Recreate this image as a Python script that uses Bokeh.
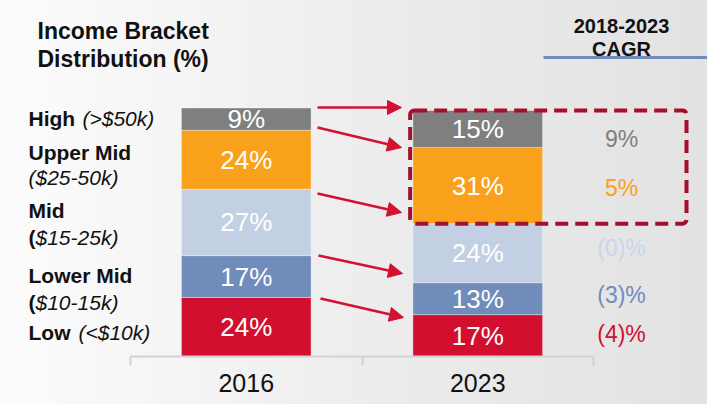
import numpy as np
from bokeh.plotting import figure
from bokeh.models import ColumnDataSource, FixedTicker, Arrow, NormalHead, BoxAnnotation
from bokeh.core.properties import value
from bokeh.embed import file_html
from bokeh.resources import INLINE

# ---------------- data ----------------
years = ["2016", "2023"]
bracket_names = ["Low", "Lower Mid", "Mid", "Upper Mid", "High"]          # bottom -> top
bracket_ranges = ["(<$10k)", "($10-15k)", "($15-25k)", "($25-50k)", "(>$50k)"]
low = [24, 17]
lower_mid = [17, 13]
mid = [27, 24]
upper_mid = [24, 31]
high = [9, 15]
cagr_labels = ["(4)%", "(3)%", "(0)%", "5%", "9%"]                        # bottom -> top
title_lines = ["Income Bracket", "Distribution (%)"]
cagr_header = ["2018-2023", "CAGR"]

# ---------------- style ----------------
seg_colors = ["#d20f2f", "#6f8cba", "#c3cfe2", "#f9a11b", "#7f7f7f"]
cagr_colors = ["#d20f2f", "#6f8cba", "#c9d6ea", "#f9a11b", "#7f7f7f"]
RED = "#d31130"
FONT = value("Liberation Sans")
BAR_W = 0.56
W, H = 707, 404

# layout helpers: convert window-pixel layout positions into data units
PX_X, X0 = 231.5, 130.0
PX_Y, Y0 = 2.46, 356.0
def dx(px):
    return (px - X0) / PX_X
def dy(py):
    return (Y0 - py) / PX_Y

p = figure(width=W, height=H, x_range=(dx(0), dx(W)), y_range=(0, dy(0)),
           output_backend="svg", toolbar_location=None, y_axis_location=None,
           min_border_left=0, min_border_right=0, min_border_top=0,
           min_border_bottom=H - int(Y0))
p.background_fill_alpha = 0
p.border_fill_alpha = 0
p.outline_line_color = None
p.grid.visible = False
p.styles = {"background": "linear-gradient(90deg, #fcfcfc 0%, #ececec 55%, #e2e2e2 100%)"}

# ---------------- bars ----------------
xs = [0.5, 1.5]
keys = ["low", "lower_mid", "mid", "upper_mid", "high"]
src = ColumnDataSource(dict(x=xs, low=low, lower_mid=lower_mid, mid=mid,
                            upper_mid=upper_mid, high=high))
p.vbar_stack(keys, x="x", width=BAR_W, color=seg_colors, source=src,
             line_color="white", line_alpha=0.35, line_width=1)

# segment value labels
stack = np.array([low, lower_mid, mid, upper_mid, high], dtype=float)   # (5, 2)
tops = np.cumsum(stack, axis=0)
centers = tops - stack / 2
lx, ly, lt = [], [], []
for j, x in enumerate(xs):
    for i in range(len(keys)):
        lx.append(x)
        ly.append(centers[i, j])
        lt.append(f"{int(stack[i, j])}%")
p.text(x=lx, y=ly, text=lt, text_color="white", text_font=FONT,
       text_font_size="26px", text_align="center", text_baseline="middle")

# CAGR values beside 2023 bar (small pixel nudges, positive = down)
cagr_dy = [-2, -4, -5, 2, 10]
p.text(x=[dx(621)] * 5, y=list(centers[:, 1]), text=cagr_labels, text_color=cagr_colors,
       text_font=FONT, text_font_size="23px", text_align="center", text_baseline="middle",
       y_offset=cagr_dy)

# dashed highlight box around upper two 2023 segments
p.add_layout(BoxAnnotation(left=xs[1] - BAR_W / 2 - 0.012, right=dx(686),
                           bottom=tops[2, 1], top=tops[4, 1],
                           fill_alpha=0, line_color="#a30f2c", line_alpha=1,
                           line_width=4, line_dash="13 7", border_radius=4))

# arrows
arrows = [((317, 107), (401, 107)),
          ((317, 127), (401, 147)),
          ((317, 193), (401, 212)),
          ((318, 255), (402, 273)),
          ((320, 298), (403, 317))]
for (x0, y0), (x1, y1) in arrows:
    p.add_layout(Arrow(end=NormalHead(size=14, fill_color=RED, line_color=RED),
                       x_start=dx(x0), y_start=dy(y0), x_end=dx(x1), y_end=dy(y1),
                       line_color=RED, line_width=2.5))

# title
p.text(x=[dx(37)] * 2, y=[dy(30), dy(58)], text=title_lines, text_font=FONT,
       text_font_style="bold", text_font_size="23px", text_color="#111111",
       text_baseline="alphabetic", text_align="left")

# CAGR header + underline
p.text(x=[dx(621)] * 2, y=[dy(25), dy(48)], text=cagr_header, text_font=FONT,
       text_font_style="bold", text_font_size="20px", text_color="#111111",
       text_baseline="alphabetic", text_align="center")
p.segment(x0=[dx(543)], y0=[dy(57)], x1=[dx(W + 5)], y1=[dy(57)],
          line_color="#6f8cba", line_width=3)

# left labels
LX = dx(28)
name_y = {"High": 118, "Upper Mid": 152, "Mid": 210, "Lower Mid": 275, "Low": 332}
range_pos = {"High": (82, 118), "Upper Mid": (28, 177), "Mid": (35, 237),
             "Lower Mid": (35, 302), "Low": (78, 332)}
bold_paren = {"Mid", "Lower Mid"}
nx, ny, nt, ix, iy, it, bx, by = [], [], [], [], [], [], [], []
for name, rng in zip(bracket_names, bracket_ranges):
    nx.append(LX); ny.append(dy(name_y[name])); nt.append(name)
    rx, ry = range_pos[name]
    if name in bold_paren:
        bx.append(LX); by.append(dy(ry))
        ix.append(dx(rx)); iy.append(dy(ry)); it.append(rng[1:])
    else:
        ix.append(dx(rx)); iy.append(dy(ry)); it.append(rng)
p.text(x=nx, y=ny, text=nt, text_font=FONT, text_font_style="bold",
       text_font_size="21px", text_color="#111111", text_baseline="middle")
p.text(x=bx, y=by, text=["("] * len(bx), text_font=FONT, text_font_style="bold",
       text_font_size="21px", text_color="#111111", text_baseline="middle")
p.text(x=ix, y=iy, text=it, text_font=FONT, text_font_style="italic",
       text_font_size="21px", text_color="#111111", text_baseline="middle")

# x axis
ax = p.xaxis[0]
ax.ticker = FixedTicker(ticks=xs, minor_ticks=[0, 1, 2])
ax.major_label_overrides = {xs[0]: years[0], xs[1]: years[1]}
ax.bounds = (0, 2)
ax.axis_line_color = "#d2d2d2"
ax.axis_line_width = 2
ax.major_tick_line_color = None
ax.major_tick_in = 0
ax.major_tick_out = 0
ax.minor_tick_line_color = "#d2d2d2"
ax.minor_tick_line_width = 2
ax.minor_tick_in = 0
ax.minor_tick_out = 9
ax.major_label_standoff = 8
ax.major_label_text_font = "Liberation Sans"
ax.major_label_text_font_size = "25px"
ax.major_label_text_color = "#111111"

open("out.html", "w").write(file_html(p, INLINE))
